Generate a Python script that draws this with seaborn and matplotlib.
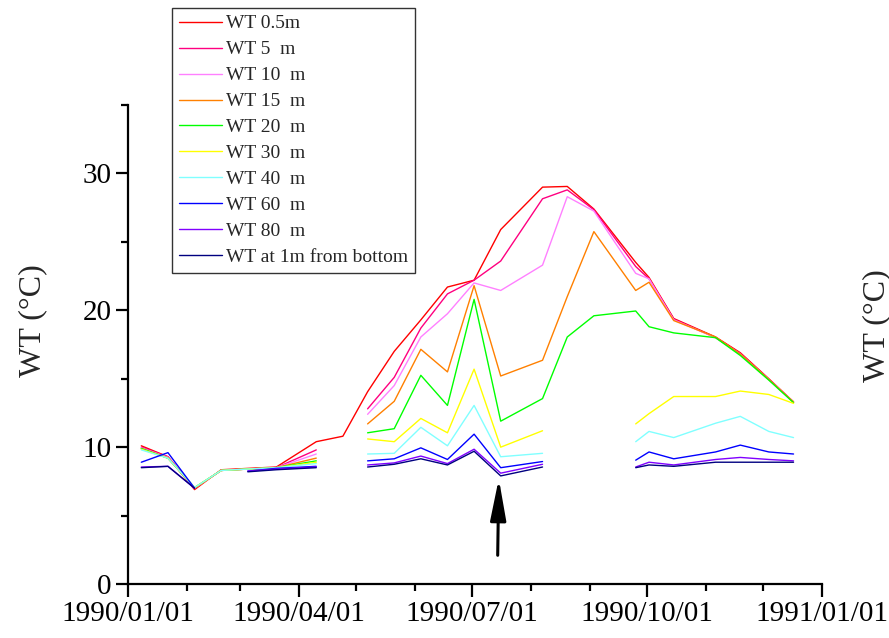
import numpy as np
import pandas as pd
import matplotlib
matplotlib.use("Agg")
import matplotlib.pyplot as plt
import matplotlib.dates as mdates
import seaborn as sns

# Sampling dates (1990)
dates = pd.to_datetime([
    "1990-01-08", "1990-01-22", "1990-02-05", "1990-02-19", "1990-03-05", "1990-03-20",
    "1990-04-10", "1990-04-24", "1990-05-07", "1990-05-21", "1990-06-04", "1990-06-18",
    "1990-07-02", "1990-07-16", "1990-08-07", "1990-08-20", "1990-09-03", "1990-09-25",
    "1990-10-02", "1990-10-15", "1990-11-06", "1990-11-19", "1990-12-04", "1990-12-17",
])

nan = np.nan
# Water temperature (deg C) at each depth
wt_0_5 = [10.1, 9.3, 6.9, 8.35, 8.45, 8.55, 10.4, 10.8, 14.05, 17.0, 19.3, 21.7,
          22.2, 25.9, 29.0, 29.05, 27.4, 23.5, 22.4, 19.4, 18.05, 16.9, 15.0, 13.3]
wt_5 = [10.0, 9.3, 7.0, 8.3, 8.4, 8.5, 9.8, nan, 12.8, 15.1, 18.7, 21.2,
        22.2, 23.6, 28.15, 28.8, 27.35, 23.2, 22.3, 19.35, 18.0, 16.85, 14.95, 13.3]
wt_10 = [9.95, 9.25, 7.0, 8.3, 8.4, 8.5, 9.5, nan, 12.4, 14.5, 18.05, 19.75,
         22.0, 21.45, 23.3, 28.3, 27.25, 22.7, 22.3, 19.3, 18.0, 16.8, 14.95, 13.3]
wt_15 = [9.9, 9.2, 7.0, 8.3, 8.4, 8.5, 9.2, nan, 11.7, 13.35, 17.15, 15.5,
         21.8, 15.2, 16.35, 21.0, 25.75, 21.45, 22.05, 19.25, 18.05, 16.8, 14.95, 13.3]
wt_20 = [9.9, 9.2, 7.05, 8.3, 8.4, 8.5, 9.0, nan, 11.05, 11.35, 15.25, 13.05,
         20.8, 11.9, 13.55, 18.05, 19.6, 19.95, 18.8, 18.35, 18.0, 16.7, 14.9, 13.25]
wt_30 = [9.85, 9.2, 7.05, 8.3, 8.4, 8.5, 8.9, nan, 10.6, 10.4, 12.1, 11.05,
         15.7, 10.0, 11.2, nan, nan, 11.7, 12.45, 13.7, 13.7, 14.1, 13.85, 13.2]
wt_40 = [9.8, 9.2, 7.05, 8.3, 8.4, 8.5, 8.8, nan, 9.5, 9.55, 11.45, 10.1,
         13.05, 9.3, 9.55, nan, nan, 10.4, 11.15, 10.7, 11.75, 12.25, 11.15, 10.7]
wt_60 = [8.9, 9.6, 7.0, nan, 8.25, 8.45, 8.6, nan, 9.0, 9.15, 9.95, 9.1,
         10.95, 8.5, 8.95, nan, nan, 9.05, 9.65, 9.15, 9.65, 10.15, 9.65, 9.5]
wt_80 = [8.55, 8.6, 7.0, nan, 8.25, 8.4, 8.55, nan, 8.7, 8.85, 9.35, 8.8,
         9.85, 8.1, 8.75, nan, nan, 8.55, 8.9, 8.7, 9.1, 9.25, 9.1, 9.0]
wt_bottom = [8.5, 8.6, 7.0, nan, 8.2, 8.35, 8.5, nan, 8.55, 8.75, 9.15, 8.7,
             9.7, 7.9, 8.55, nan, nan, 8.5, 8.7, 8.6, 8.9, 8.9, 8.9, 8.9]

labels = ["WT 0.5m", "WT 5  m", "WT 10  m", "WT 15  m", "WT 20  m",
          "WT 30  m", "WT 40  m", "WT 60  m", "WT 80  m", "WT at 1m from bottom"]
colors = ["#ff0000", "#ff0080", "#ff80ff", "#ff8000", "#00ff00",
          "#ffff00", "#80ffff", "#0000ff", "#8000ff", "#000080"]
series = [wt_0_5, wt_5, wt_10, wt_15, wt_20, wt_30, wt_40, wt_60, wt_80, wt_bottom]

# Long-form table; each run of valid samples gets its own segment id so gaps stay open
frames = []
for lab, vals in zip(labels, series):
    v = np.asarray(vals, dtype=float)
    seg = np.cumsum(np.isnan(v))
    d = pd.DataFrame({"date": dates, "wt": v, "series": lab, "segment": seg})
    frames.append(d.dropna(subset=["wt"]))
df = pd.concat(frames, ignore_index=True)

sns.set_theme(style="ticks")
plt.rcParams["font.family"] = ["Liberation Serif", "DejaVu Serif"]

fig = plt.figure(figsize=(8.89, 6.38), dpi=100)
ax = fig.add_axes([0.144, 0.0846, 0.7807, 0.7508])

sns.lineplot(data=df, x="date", y="wt", hue="series", units="segment",
             estimator=None, hue_order=labels, palette=dict(zip(labels, colors)),
             linewidth=1.0, sort=False, ax=ax, legend=True)

ax.set_xlim(pd.Timestamp("1990-01-01"), pd.Timestamp("1991-01-01"))
ax.set_ylim(0, 35)
ax.xaxis.set_major_locator(mdates.MonthLocator(bymonth=[1, 4, 7, 10]))
ax.xaxis.set_minor_locator(mdates.MonthLocator())
ax.xaxis.set_major_formatter(mdates.DateFormatter("%Y/%m/%d"))
ax.set_yticks([0, 10, 20, 30])
ax.set_yticks([5, 15, 25, 35], minor=True)

for s in ["top", "right"]:
    ax.spines[s].set_visible(False)
for s in ["left", "bottom"]:
    ax.spines[s].set_linewidth(1.6)
    ax.spines[s].set_color("black")

ax.tick_params(axis="both", which="major", direction="out", length=9,
               width=1.6, labelsize=21, colors="black", pad=3)
ax.tick_params(axis="both", which="minor", direction="out", length=5,
               width=1.6, colors="black")

ax.set_xlabel("")
ax.set_ylabel("WT (°C)", fontsize=23)
ax.yaxis.set_label_coords(-0.116, 0.549)

# Second panel's axis title, cut by the right edge of the figure
fig.text(0.986, 0.489, "WT (°C)", rotation=90, ha="center", va="center", fontsize=23)

# Arrow marking the mid-July minimum
arrow_tail = (mdates.date2num(pd.Timestamp("1990-07-14 10:00")), 2.1)
arrow_tip = (mdates.date2num(pd.Timestamp("1990-07-15 00:00")), 7.7)
ax.annotate("", xy=arrow_tip, xytext=arrow_tail,
            arrowprops=dict(arrowstyle="-|>,head_length=2.1,head_width=0.4",
                            color="black", lw=2.2, shrinkA=0, shrinkB=0))

handles, lbls = ax.get_legend_handles_labels()
leg = ax.legend(handles=handles, labels=lbls, loc="upper left",
                bbox_to_anchor=(0.1935, 0.9875), bbox_transform=fig.transFigure,
                borderaxespad=0, fontsize=14, frameon=True, fancybox=False,
                framealpha=1, edgecolor="#333333", handlelength=2.2,
                handletextpad=0.25, labelspacing=0.43, borderpad=0.35)
leg.get_frame().set_linewidth(1.0)
for h in leg.get_lines():
    h.set_linewidth(1.0)

fig.savefig("out.png", dpi=100)
